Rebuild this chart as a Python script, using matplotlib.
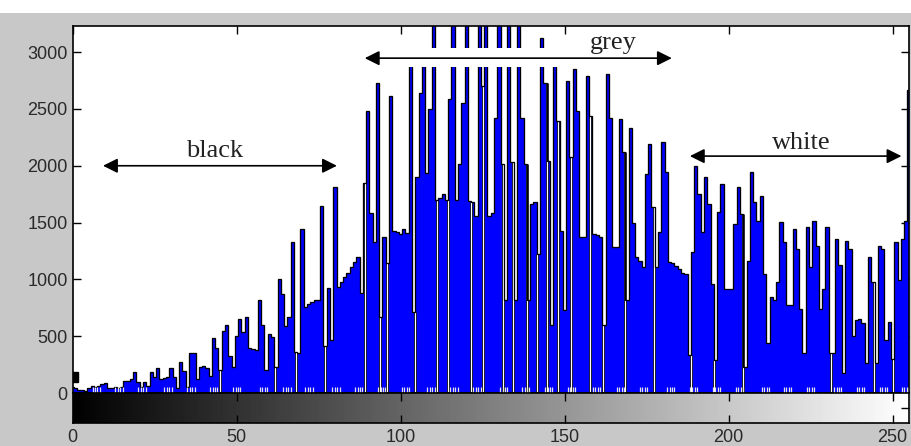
import numpy as np
import matplotlib
matplotlib.use("Agg")
import matplotlib.pyplot as plt
from matplotlib.patches import Rectangle

# histogram counts for grey levels 0..255
counts = [
    50, 45, 30, 25, 15, 40, 60, 55, 60, 80,
    85, 45, 40, 50, 45, 55, 110, 105, 125, 185,
    95, 50, 100, 60, 185, 140, 220, 125, 130, 145,
    220, 140, 40, 275, 190, 50, 350, 355, 120, 230,
    235, 220, 150, 480, 400, 200, 550, 600, 330, 230,
    500, 655, 540, 670, 400, 390, 380, 815, 600, 200,
    520, 490, 230, 1005, 870, 590, 670, 1330, 360, 350,
    1445, 760, 780, 800, 815, 820, 1650, 410, 920, 470,
    1810, 930, 980, 1020, 1060, 1110, 1150, 1200, 880, 1850,
    2480, 1580, 1330, 2730, 670, 1370, 1140, 2610, 1430, 1420,
    1400, 1440, 1410, 2950, 710, 1900, 2640, 2950, 1940, 2500,
    3400, 1700, 1720, 1750, 1700, 2585, 3400, 1700, 2015, 2556,
    3400, 1690, 1680, 1560, 3400, 2700, 3400, 1560, 1580, 2424,
    3400, 2015, 816, 3400, 2030, 816, 3400, 2424, 2015, 816,
    1664, 1678, 1225, 3120, 2731, 2044, 600, 2950, 2395, 1430,
    728, 2746, 2073, 2848, 2483, 1371, 1371, 2790, 2439, 1400,
    1390, 1371, 600, 2804, 2424, 1284, 1284, 2410, 2117, 816,
    2336, 1500, 1196, 1160, 1108, 1927, 2190, 1634, 1108, 1415,
    2205, 1941, 1152, 1140, 1120, 1090, 1060, 1050, 333, 1240,
    2000, 1751, 1415, 1897, 1664, 962, 290, 1590, 1839, 918,
    918, 918, 1488, 1810, 1576, 231, 1166, 1941, 1678, 1517,
    1737, 1050, 436, 845, 816, 976, 1503, 1327, 772, 772,
    1444, 1269, 742, 348, 1459, 1108, 1517, 1298, 742, 918,
    1459, 348, 348, 1357, 1123, 172, 1342, 1269, 500, 640,
    650, 620, 260, 1196, 976, 260, 1298, 1270, 465, 625,
    300, 1327, 991, 1357, 1517, 2670,
]
# narrow empty levels (white slits reaching the baseline)
empty_levels = [45.0, 61.7, 68.1, 76.9, 89.1, 93.7, 95.9, 104.4, 111.0, 114.5,
                121.6, 125.0, 131.3, 134.3, 138.4, 141.6, 144.5, 148.0, 152.1,
                157.7, 161.7, 168.3, 177.4, 188.5, 195.7, 204.3, 231.1, 244.4, 250.0]
# clusters of tiny pale stems along the baseline
stem_groups = [7.2, 14.2, 21.2, 29.1, 36.1, 43.1, 50.1, 58.3, 65.4, 72.1, 80.3,
               87.3, 94.3, 101.6, 109.3, 116.3, 123.3, 131.5, 138.2, 145.2, 152.2,
               159.8, 167.1, 174.1, 182.4, 189.4, 196.4, 203.4, 211.3, 218.0,
               225.0, 233.3, 240.3, 247.3, 254.0]
yticks = [0, 500, 1000, 1500, 2000, 2500, 3000]
xticks = [0, 50, 100, 150, 200, 250]

# labels with arrow spans (start, end, y) and text position
labels = ["black", "grey", "white"]
spans = [(9.3, 80.6, 2000), (89.1, 182.7, 2947), (188.2, 252.7, 2085)]
text_pos = [(43.4, 2076), (165.0, 3026), (222.3, 2150)]

W, H = 911, 446
fig = plt.figure(figsize=(W / 100, H / 100), dpi=100, facecolor="#c8c8c8")
fig.patches.append(Rectangle((0, 1 - 13 / H), 1, 13 / H, transform=fig.transFigure,
                             facecolor="white", edgecolor="none", zorder=0))

tickfont = dict(family=["Liberation Sans", "DejaVu Sans"], size=13, color="#2a2a2a")

# main histogram axes
ax = fig.add_axes([72.5 / W, (H - 393) / H, 836.5 / W, 367 / H])
edges = np.arange(257) - 0.5
ax.stairs(counts, edges, fill=True, color="#0000ff", zorder=2)
gap_h = [counts[int(round(g))] for g in empty_levels]
ax.vlines(empty_levels, 0, gap_h, color="black", lw=2.0, zorder=2.4)
ax.vlines(empty_levels, 0, gap_h, color="white", lw=0.9, zorder=2.5)
ax.stairs(counts, edges, color="black", lw=0.95, zorder=3)

sx = []
for c in stem_groups:
    sx += [c - 1.1, c - 0.4, c + 0.4, c + 1.1]
ax.vlines(sx, 0, 55, color="#e4e4e4", lw=0.9, zorder=3.5)
ax.plot([0], [140], marker="s", ms=7, color="black", zorder=4)

ax.set_xlim(0, 255)
ax.set_ylim(0, 3230)
ax.set_yticks(yticks)
ax.set_yticklabels([str(v) for v in yticks], fontdict=tickfont)
ax.set_xticks(xticks)
ax.tick_params(axis="both", direction="in", length=6, width=1,
               top=True, right=True, bottom=False, labelbottom=False)
for s in ax.spines.values():
    s.set_linewidth(1.2)

# white band behind the grey arrow
x0, x1, yg = spans[1]
ax.add_patch(Rectangle((x0, 2868), x1 - x0, 167, facecolor="white",
                       edgecolor="none", zorder=5))

for lab, (a, b, y), (tx, ty) in zip(labels, spans, text_pos):
    ax.annotate("", xy=(a, y), xytext=(b, y),
                arrowprops=dict(arrowstyle="<|-|>", color="black", lw=1.2,
                                mutation_scale=22, shrinkA=0, shrinkB=0),
                zorder=6)
    ax.text(tx, ty, lab, ha="center", va="baseline", fontsize=19,
            family=["Liberation Serif", "DejaVu Serif"], color="#222222", zorder=7)

# grey-level colour bar
cax = fig.add_axes([72.5 / W, (H - 423) / H, 836.5 / W, 30 / H])
grad = np.linspace(0, 1, 256)[None, :]
cax.imshow(grad, cmap="gray", aspect="auto", extent=[0, 255, 0, 1], vmin=0, vmax=1)
cax.set_xlim(0, 255)
cax.set_ylim(0, 1)
cax.set_xticks(xticks)
cax.set_xticklabels([str(v) for v in xticks], fontdict=tickfont)
cax.set_yticks([0.5])
cax.tick_params(axis="x", direction="in", length=6, width=1, top=True, pad=4)
cax.tick_params(axis="y", direction="in", length=6, width=1, left=False,
                right=True, labelleft=False)
for s in cax.spines.values():
    s.set_linewidth(1.2)

fig.savefig("out.png", dpi=100, facecolor=fig.get_facecolor())
